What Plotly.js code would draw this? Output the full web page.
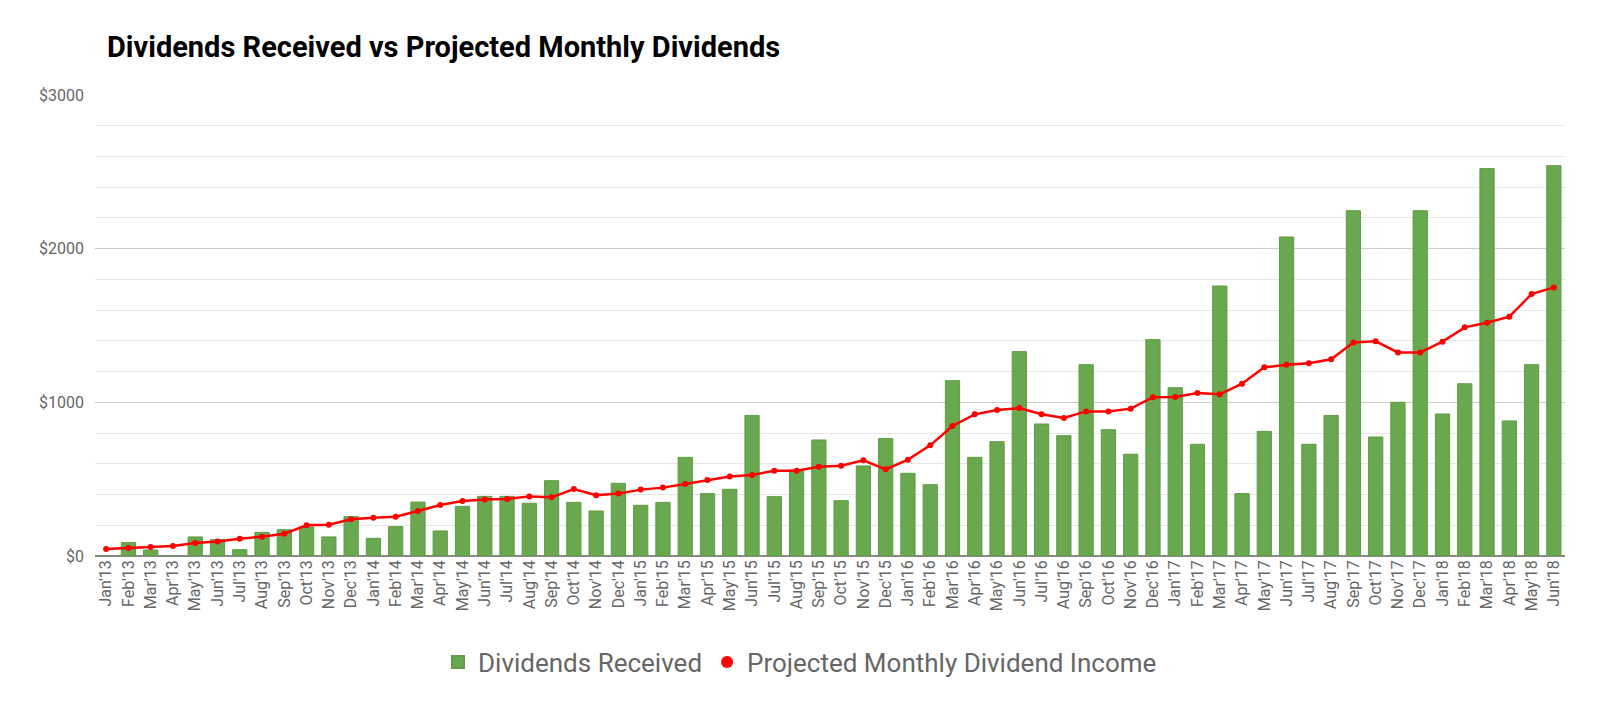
<!DOCTYPE html>
<html>
<head>
<meta charset="utf-8">
<script src="https://cdn.plot.ly/plotly-3.0.1.min.js"></script>
<style>
  html, body { margin: 0; padding: 0; background: #fff; }
  #graph { width: 1600px; height: 706px; }
</style>
</head>
<body>
<div id="graph"></div>
<script>
var months = [
  "Jan'13","Feb'13","Mar'13","Apr'13","May'13","Jun'13","Jul'13","Aug'13","Sep'13","Oct'13","Nov'13","Dec'13",
  "Jan'14","Feb'14","Mar'14","Apr'14","May'14","Jun'14","Jul'14","Aug'14","Sep'14","Oct'14","Nov'14","Dec'14",
  "Jan'15","Feb'15","Mar'15","Apr'15","May'15","Jun'15","Jul'15","Aug'15","Sep'15","Oct'15","Nov'15","Dec'15",
  "Jan'16","Feb'16","Mar'16","Apr'16","May'16","Jun'16","Jul'16","Aug'16","Sep'16","Oct'16","Nov'16","Dec'16",
  "Jan'17","Feb'17","Mar'17","Apr'17","May'17","Jun'17","Jul'17","Aug'17","Sep'17","Oct'17","Nov'17","Dec'17",
  "Jan'18","Feb'18","Mar'18","Apr'18","May'18","Jun'18"
];

var received = [
  0, 87, 39, 0, 124, 106, 41, 154, 171, 189, 124, 256,
  115, 191, 351, 163, 323, 388, 388, 343, 490, 349, 293, 473,
  330, 349, 642, 406, 434, 915, 386, 553, 755, 360, 586, 764,
  538, 464, 1141, 642, 744, 1330, 859, 783, 1245, 822, 662, 1408,
  1095, 727, 1757, 406, 811, 2076, 727, 915, 2247, 774, 1000, 2247,
  924, 1121, 2521, 879, 1245, 2540
];

var projected = [
  46, 52, 59, 65, 85, 95, 113, 126, 145, 200, 204, 239,
  249, 256, 293, 332, 358, 367, 371, 388, 382, 436, 395, 406,
  432, 445, 469, 495, 518, 527, 555, 555, 581, 588, 623, 564,
  627, 720, 846, 922, 950, 963, 922, 898, 941, 941, 959, 1033,
  1035, 1061, 1052, 1121, 1228, 1245, 1254, 1280, 1390, 1397, 1325, 1325,
  1395, 1488, 1518, 1557, 1705, 1748
];

var yTicks = [0, 1000, 2000, 3000];
var yTickText = ["$0", "$1000", "$2000", "$3000"];

var bars = {
  x: months,
  y: received,
  type: 'bar',
  name: 'Dividends Received',
  marker: { color: '#6aa84f', line: { color: '#5f9c45', width: 1 } }
};

var line = {
  x: months,
  y: projected,
  type: 'scatter',
  mode: 'lines+markers',
  name: 'Projected Monthly Dividend Income',
  showlegend: false,
  line: { color: '#ff0000', width: 2.5 },
  marker: { color: '#ff0000', size: 6 }
};

// legend-only entry so the key shows a plain dot, as in the original
var lineKey = {
  x: [null],
  y: [null],
  type: 'scatter',
  mode: 'markers',
  name: 'Projected Monthly Dividend Income',
  marker: { color: '#ff0000', size: 16 }
};

var layout = {
  width: 1600,
  height: 706,
  paper_bgcolor: '#fff',
  plot_bgcolor: '#fff',
  font: { family: 'Roboto, Arial, sans-serif', color: '#666' },
  margin: { l: 95, r: 35, t: 95, b: 150 },
  title: {
    text: '<b>Dividends Received vs Projected Monthly Dividends</b>',
    font: { family: 'Roboto, Arial, sans-serif', size: 29, color: '#000' },
    xref: 'container', x: 107 / 1600, xanchor: 'left',
    yref: 'container', y: 1 - 47 / 706, yanchor: 'middle'
  },
  bargap: 0.36,
  xaxis: {
    type: 'category',
    range: [-0.5, months.length - 0.5],
    tickangle: -90,
    tickfont: { size: 16, color: '#666' },
    showgrid: false,
    showline: false,
    ticks: '',
    zeroline: false
  },
  yaxis: {
    range: [0, 3000],
    tickvals: yTicks,
    ticktext: yTickText,
    tickfont: { size: 16, color: '#666' },
    ticklabelstandoff: 10,
    gridcolor: '#cccccc',
    gridwidth: 1,
    zeroline: true,
    zerolinecolor: '#888',
    zerolinewidth: 1.5,
    ticks: '',
    minor: { dtick: 200, showgrid: true, gridcolor: '#e6e6e6', gridwidth: 1 }
  },
  showlegend: true,
  legend: {
    orientation: 'h',
    xref: 'container', x: 0.5, xanchor: 'center',
    yref: 'container', y: 1 - 662 / 706, yanchor: 'middle',
    font: { size: 26, color: '#666' },
    itemsizing: 'constant',
    itemwidth: 30
  }
};

Plotly.newPlot('graph', [bars, line, lineKey], layout, { displayModeBar: false, staticPlot: true });
</script>
</body>
</html>
